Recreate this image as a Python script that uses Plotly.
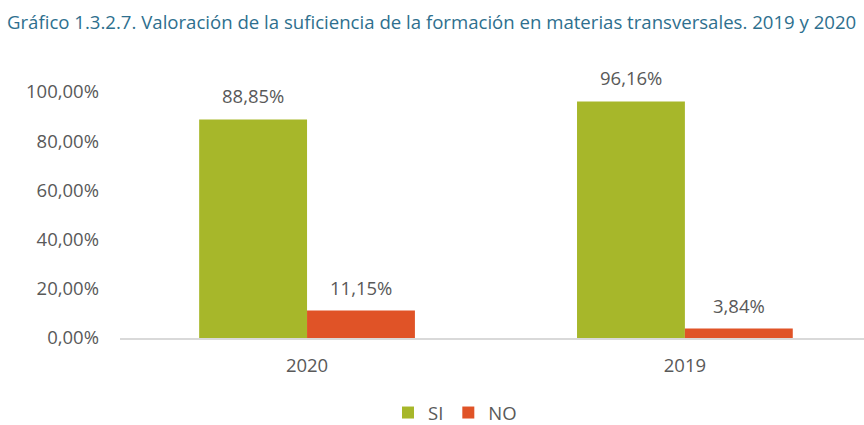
import plotly.graph_objects as go

categories = ["2020", "2019"]
si_values = [88.85, 96.16]
no_values = [11.15, 3.84]
series_names = ["SI", "NO"]
title_text = "Gráfico 1.3.2.7. Valoración de la suficiencia de la formación en materias transversales. 2019 y 2020"
y_ticks = [0, 20, 40, 60, 80, 100]

def fmt(v):
    return f"{v:.2f}".replace(".", ",") + "%"

FONT = "Open Sans"
TXT = "#595959"
FS = 18.5
COLORS = ["#a7b72a", "#e05327"]

fig = go.Figure()
for name, vals, col in zip(series_names, [si_values, no_values], COLORS):
    fig.add_trace(go.Bar(
        x=categories, y=vals, name=name,
        marker=dict(color=col, line=dict(width=0)),
        cliponaxis=False,
    ))

# data labels placed above each bar (x given as category index)
for vals, xs in ((si_values, -54), (no_values, 54)):
    for i, v in enumerate(vals):
        fig.add_annotation(
            x=i, y=v, xref="x", yref="y", text=fmt(v), showarrow=False,
            xshift=xs, yshift=9, yanchor="bottom", xanchor="center",
            font=dict(family=FONT, size=FS, color=TXT),
        )

fig.update_layout(
    width=864, height=425,
    margin=dict(l=120, r=0, t=92, b=87, autoexpand=False),
    paper_bgcolor="white", plot_bgcolor="white",
    separators=",.",
    barmode="group", bargap=0.429, bargroupgap=0,
    title=dict(text=title_text, x=7 / 864, xanchor="left", xref="container",
               y=1 - 22 / 425, yanchor="middle", yref="container",
               font=dict(family=FONT, size=18.6, color="#2e6f8e")),
    font=dict(family=FONT, size=FS, color=TXT),
    showlegend=True,
    legend=dict(orientation="h", xref="container", yref="container",
                x=455 / 864, xanchor="center", y=1 - 413 / 425, yanchor="middle",
                font=dict(family=FONT, size=FS, color=TXT),
                itemwidth=30, traceorder="normal"),
)
fig.update_xaxes(
    type="category", range=[-0.495, 1.474],
    showline=True, linecolor="#d9d9d9", linewidth=2,
    showgrid=False, ticks="", tickfont=dict(family=FONT, size=FS, color=TXT),
    zeroline=False, ticklabelstandoff=10,
)
fig.update_yaxes(
    range=[0, 100], tickvals=y_ticks, ticktext=[fmt(v) for v in y_ticks],
    showgrid=False, zeroline=False, showline=False, ticks="",
    tickfont=dict(family=FONT, size=FS, color=TXT), ticklabelstandoff=20,
)

fig.write_html("out.html", config={"displayModeBar": False},
               post_script="document.body.style.margin='0';")
